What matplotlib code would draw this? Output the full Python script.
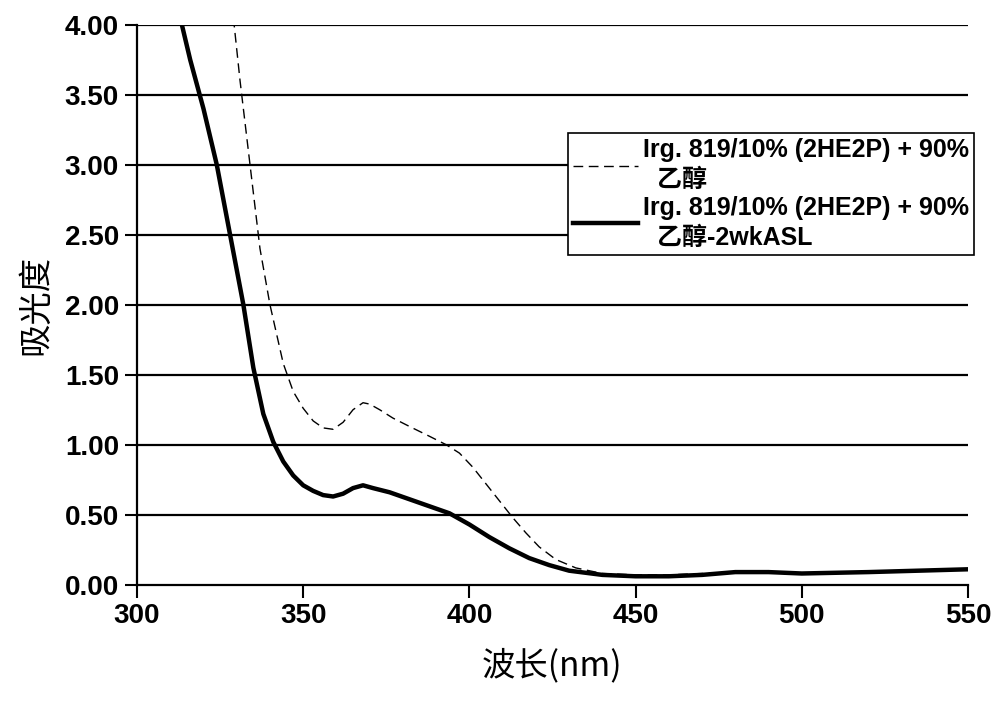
import matplotlib
matplotlib.use("Agg")
import matplotlib.pyplot as plt

plt.rcParams['font.family'] = ['Liberation Sans', 'Noto Sans CJK SC', 'DejaVu Sans']

# fresh sample (dashed)
wl_fresh = [329, 331, 333, 335, 337, 340, 344, 347, 350, 353, 356, 359, 362, 365, 368, 370, 373, 377, 382, 388, 393, 397,
            401, 405, 409, 413, 417, 421, 426, 432, 440, 450, 460, 470, 480, 490, 500, 520, 550]
abs_fresh = [4.05, 3.6, 3.2, 2.8, 2.4, 2.0, 1.58, 1.38, 1.26, 1.17, 1.12, 1.11, 1.16, 1.25, 1.30, 1.29, 1.25, 1.19, 1.13, 1.06, 1.0, 0.94,
             0.84, 0.72, 0.6, 0.48, 0.37, 0.27, 0.18, 0.12, 0.08, 0.07, 0.07, 0.08, 0.09, 0.09, 0.08, 0.09, 0.11]

# after 2wkASL (solid)
wl_aged = [313, 316, 320, 324, 328, 332, 335, 338, 341, 344, 347, 350, 353, 356, 359, 362, 365, 368, 371, 376, 382, 388, 394,
           400, 406, 412, 418, 424, 430, 440, 450, 460, 470, 480, 490, 500, 520, 550]
abs_aged = [4.05, 3.75, 3.4, 3.0, 2.5, 2.0, 1.55, 1.22, 1.02, 0.88, 0.78, 0.71, 0.67, 0.64, 0.63, 0.65, 0.69, 0.71, 0.69, 0.66, 0.61, 0.56, 0.51,
            0.43, 0.34, 0.26, 0.19, 0.14, 0.1, 0.07, 0.06, 0.06, 0.07, 0.09, 0.09, 0.08, 0.09, 0.11]

labels = ["Irg. 819/10% (2HE2P) + 90%\n  乙醇", "Irg. 819/10% (2HE2P) + 90%\n  乙醇-2wkASL"]
xticks = [300, 350, 400, 450, 500, 550]
yticks = [0.0, 0.5, 1.0, 1.5, 2.0, 2.5, 3.0, 3.5, 4.0]

fig = plt.figure(figsize=(10, 7.07), dpi=100)
ax = fig.add_axes([0.137, 0.173, 0.831, 0.792])

for y in yticks[1:]:
    ax.axhline(y, color='black', lw=1.6, zorder=1)

ax.plot(wl_fresh, abs_fresh, color='black', lw=1.0, ls=(0, (7, 4)), label=labels[0], zorder=3)
ax.plot(wl_aged, abs_aged, color='black', lw=3.2, label=labels[1], zorder=3)

ax.set_xlim(300, 550)
ax.set_ylim(0, 4.0)
ax.set_xticks(xticks)
ax.set_yticks(yticks)
ax.set_yticklabels(["%.2f" % v for v in yticks])
ax.spines['top'].set_visible(False)
ax.spines['right'].set_visible(False)
for s in ['left', 'bottom']:
    ax.spines[s].set_linewidth(1.6)
ax.tick_params(axis='both', labelsize=20, width=1.5, length=9, direction='out', pad=4)
for t in ax.get_xticklabels() + ax.get_yticklabels():
    t.set_fontweight('bold')

ax.set_xlabel("波长(nm)", fontsize=24, family=['Noto Sans CJK SC', 'DejaVu Sans'], labelpad=14)
ax.set_ylabel("吸光度", fontsize=24, family=['Noto Sans CJK SC', 'DejaVu Sans'], labelpad=8)

leg = ax.legend(loc='upper left', bbox_to_anchor=(0.519, 0.806), fontsize=18, frameon=True, fancybox=False,
                edgecolor='black', framealpha=1, handlelength=2.6, handletextpad=0.2, borderpad=0.2,
                labelspacing=0.15, borderaxespad=0)
leg.get_frame().set_linewidth(1.2)
for t in leg.get_texts():
    t.set_fontweight('bold')
    t.set_linespacing(1.3)

fig.savefig("out.png", dpi=100, facecolor='white')
